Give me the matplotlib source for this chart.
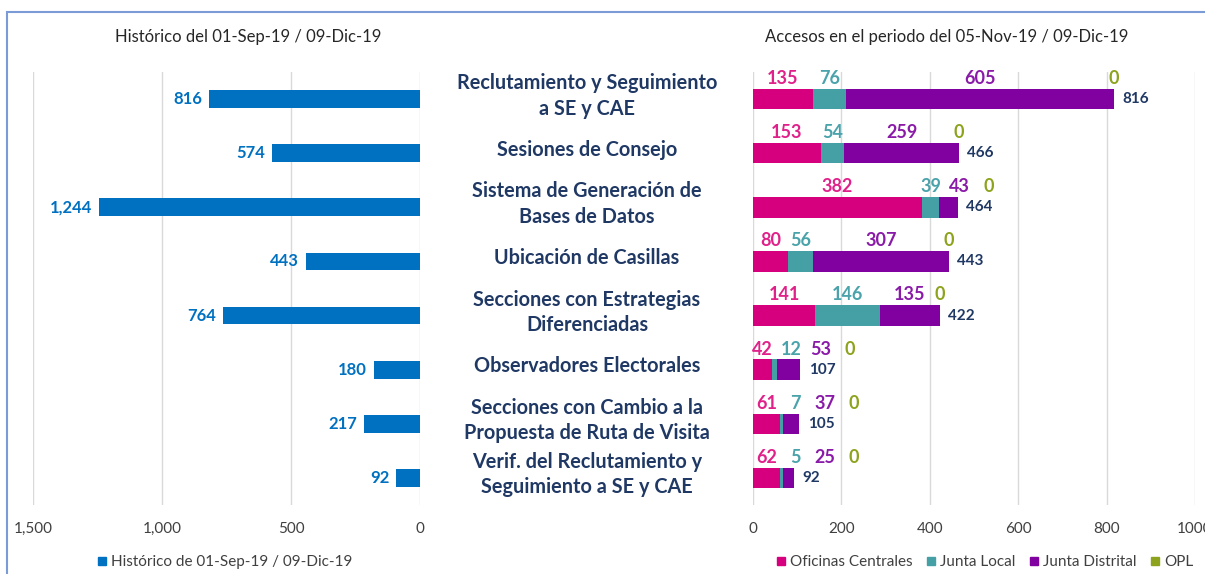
import matplotlib
matplotlib.use("Agg")
import matplotlib.pyplot as plt
import matplotlib.patches as mpatches
from matplotlib.lines import Line2D
from matplotlib.transforms import blended_transform_factory
import numpy as np

plt.rcParams['font.family'] = ['Lato', 'DejaVu Sans']

# data
categorias = ['Reclutamiento y Seguimiento\na SE y CAE',
              'Sesiones de Consejo',
              'Sistema de Generación de\nBases de Datos',
              'Ubicación de Casillas',
              'Secciones con Estrategias\nDiferenciadas',
              'Observadores Electorales',
              'Secciones con Cambio a la\nPropuesta de Ruta de Visita',
              'Verif. del Reclutamiento y\nSeguimiento a SE y CAE']
historico = [816, 574, 1244, 443, 764, 180, 217, 92]
oficinas_centrales = [135, 153, 382, 80, 141, 42, 61, 62]
junta_local = [76, 54, 39, 56, 146, 12, 7, 5]
junta_distrital = [605, 259, 43, 307, 135, 53, 37, 25]
opl = [0, 0, 0, 0, 0, 0, 0, 0]
series_nombres = ['Oficinas Centrales', 'Junta Local', 'Junta Distrital', 'OPL']
titulo_izq = 'Histórico del 01-Sep-19 / 09-Dic-19'
titulo_der = 'Accesos en el periodo del 05-Nov-19 / 09-Dic-19'
leyenda_izq = 'Histórico de 01-Sep-19 / 09-Dic-19'

azul = '#0070C0'
colores = ['#D6007F', '#45A0A5', '#8000A0', '#8DA31E']
colores_txt = ['#E0218A', '#4AA3AA', '#8A1AA8', '#8DA31E']
navy = '#1F3864'
gris = '#D9D9D9'
tick_col = '#404040'

W, H = 1205, 574
fig = plt.figure(figsize=(W / 100, H / 100), dpi=100, facecolor='white')

# border
fig.patches.append(mpatches.Rectangle((7 / W, -0.05), 1.2, (1 - 12 / H) + 0.05,
                                      transform=fig.transFigure, fill=False,
                                      edgecolor='#7A9BD6', linewidth=1.5))

bot = 1 - 505 / H
alto = (505 - 72) / H
ax1 = fig.add_axes([33 / W, bot, (420 - 33) / W, alto])
ax2 = fig.add_axes([753 / W, bot, (1195 - 753) / W, alto])

y = np.arange(len(categorias))

# left chart
ax1.barh(y, historico, height=0.33, color=azul, zorder=3)
for yi, v in zip(y, historico):
    ax1.annotate(f'{v:,}', (v, yi), xytext=(-5, 0), textcoords='offset points',
                 ha='right', va='center', color=azul, fontsize=12, fontweight='bold')
ax1.set_xlim(1500, 0)
ax1.set_xticks([1500, 1000, 500, 0])
ax1.set_xticklabels(['1,500', '1,000', '500', '0'])

# right chart, stacked
series = [oficinas_centrales, junta_local, junta_distrital, opl]
izq = np.zeros(len(categorias))
for vals, c in zip(series, colores):
    ax2.barh(y, vals, left=izq, height=0.38, color=c, zorder=3)
    izq = izq + np.array(vals)
totales = izq

gap = 66
for i in range(len(categorias)):
    base = 0
    prev = -1e9
    for k, vals in enumerate(series):
        centro = base + vals[i] / 2
        xl = max(centro, prev + gap)
        prev = xl
        base += vals[i]
        ax2.text(xl, i - 0.38, str(vals[i]), ha='center', va='center',
                 color=colores_txt[k], fontsize=13, fontweight='bold')
    ax2.annotate(f'{int(totales[i])}', (totales[i], i), xytext=(6, 0),
                 textcoords='offset points', ha='left', va='center',
                 color=navy, fontsize=11, fontweight='bold')
ax2.set_xlim(0, 1000)
ax2.set_xticks([0, 200, 400, 600, 800, 1000])

for ax in (ax1, ax2):
    ax.set_ylim(len(categorias) - 0.5, -0.5)
    ax.set_yticks([])
    for s in ax.spines.values():
        s.set_visible(False)
    ax.grid(axis='x', color=gris, linewidth=1, zorder=0)
    ax.tick_params(axis='x', length=0, pad=12, labelsize=11, labelcolor=tick_col)
    ax.patch.set_alpha(0)

# category labels in the middle
tr = blended_transform_factory(fig.transFigure, ax2.transData)
for i, cat in enumerate(categorias):
    fig.text(587 / W, i - 0.06, cat, transform=tr, ha='center', va='center',
             fontsize=14.3, fontweight='bold', color=navy, linespacing=1.35)

fig.text(248 / W, 1 - 37 / H, titulo_izq, ha='center', va='center', fontsize=12, color='#262626')
fig.text(947 / W, 1 - 37 / H, titulo_der, ha='center', va='center', fontsize=12, color='#262626')

h1 = [Line2D([], [], marker='s', linestyle='', color=azul, markersize=6)]
fig.legend(h1, [leyenda_izq], loc='center', bbox_to_anchor=(225 / W, 1 - 562 / H),
           frameon=False, fontsize=11, handlelength=0.6, handletextpad=0.3,
           labelcolor=tick_col)
h2 = [Line2D([], [], marker='s', linestyle='', color=c, markersize=6) for c in colores]
fig.legend(h2, series_nombres, loc='center', bbox_to_anchor=(985 / W, 1 - 562 / H),
           frameon=False, fontsize=11, ncol=4, handlelength=0.6, handletextpad=0.3,
           columnspacing=0.9, labelcolor=tick_col)

fig.savefig('out.png', dpi=100)
